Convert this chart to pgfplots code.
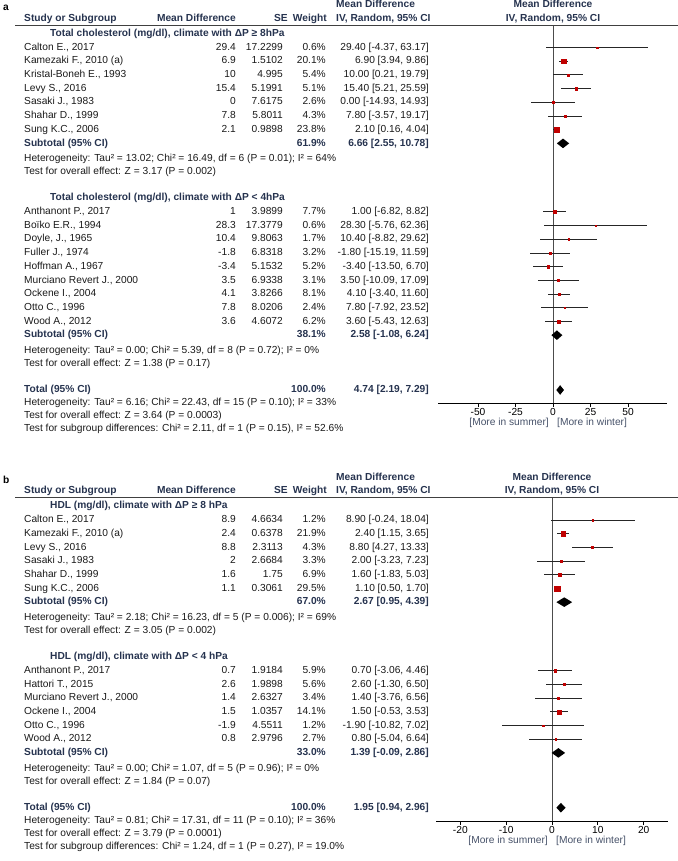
\documentclass[border=0pt]{standalone}
\usepackage{fontspec}
\setmainfont{Liberation Sans}
\usepackage{pgfplots}
\usepackage{pgfplotstable}
\pgfplotsset{compat=1.18}

\definecolor{hdr}{HTML}{26334F}
\definecolor{sqred}{HTML}{C00000}
\definecolor{txt}{HTML}{1A1A1A}
\newcommand\f{\fontsize{10.2bp}{12bp}\selectfont}
\newcommand\fb{\fontsize{10.2bp}{12bp}\selectfont\bfseries}

% study rows: row, mean difference, 95% CI, weight (%)
\pgfplotstableread{
row md   lo     hi    w
0   29.4 -4.37  63.17 0.6
1   6.9  3.94   9.86  20.1
2   10   0.21   19.79 5.4
3   15.4 5.21   25.59 5.1
4   0    -14.93 14.93 2.6
5   7.8  -3.57  19.17 4.3
6   2.1  0.16   4.04  23.8
12  1    -6.82  8.82  7.7
13  28.3 -5.76  62.36 0.6
14  10.4 -8.82  29.62 1.7
15  -1.8 -15.19 11.59 3.2
16  -3.4 -13.50 6.70  5.2
17  3.5  -10.09 17.09 3.1
18  4.1  -3.40  11.60 8.1
19  7.8  -7.92  23.52 2.4
20  3.6  -5.43  12.63 6.2
}\tchol
\pgfplotstableread{
row md   lo     hi    w
0   8.9  -0.24  18.04 1.2
1   2.4  1.15   3.65  21.9
2   8.8  4.27   13.33 4.3
3   2    -3.23  7.23  3.3
4   1.6  -1.83  5.03  6.9
5   1.1  0.50   1.70  29.5
11  0.7  -3.06  4.46  5.9
12  2.6  -1.30  6.50  5.6
13  1.4  -3.76  6.56  3.4
14  1.5  -0.53  3.53  14.1
15  -1.9 -10.82 7.02  1.2
16  0.8  -5.04  6.64  2.7
}\hdl

% derived columns: plot y, CI arms, square size
\newcommand\prep[1]{%
  \pgfplotstablecreatecol[expr={-\thisrow{row}}]{y}#1%
  \pgfplotstablecreatecol[expr={\thisrow{hi}-\thisrow{md}}]{ep}#1%
  \pgfplotstablecreatecol[expr={\thisrow{md}-\thisrow{lo}}]{em}#1%
  \pgfplotstablecreatecol[expr={max(0.75,0.5*sqrt(\thisrow{w}))}]{ms}#1}
\prep\tchol
\prep\hdl

\pgfplotsset{
  forest/.style={
    scale only axis, clip=false,
    axis x line*=bottom, hide y axis,
    x axis line style={-, black, line width=0.9bp},
    tick align=outside, major tick length=4bp,
    xtick style={black, line width=0.8bp},
    xticklabel style={font=\f, text=black, inner sep=1.5bp},
    /pgf/number format/assume math mode=true,
  },
  cilines/.style={only marks, mark=*, mark size=0.01pt,
    mark options={draw=none, fill=none}, forget plot,
    error bars/.cd, x dir=both, x explicit, error mark=none,
    error bar style={line width=0.85bp, black!85}},
  squares/.style={scatter, only marks, mark=square*,
    point meta=explicit, point meta min=0, point meta max=10,
    scatter/use mapped color={draw=sqred, fill=sqred, line width=0.2bp},
    scatter/@pre marker code/.append style={/tikz/mark size=\pgfplotspointmetatransformed/100}},
  pooled/.style={fill=black, draw=none, mark=none},
}

\newcommand\srow[6]{%
  \node[anchor=mid west] at (24,#1) {#2};
  \node[anchor=mid east] at (236,#1) {#3};
  \node[anchor=mid east] at (283,#1) {#4};
  \node[anchor=mid east] at (326,#1) {#5\%};
  \node[anchor=mid east] at (429,#1) {#6};}
\newcommand\subrow[4]{%
  \node[anchor=mid west,font=\fb,text=hdr] at (24,#1) {#2};
  \node[anchor=mid east,font=\fb,text=hdr] at (326,#1) {#3};
  \node[anchor=mid east,font=\fb,text=hdr] at (429,#1) {#4};}
\newcommand\note[2]{\node[anchor=mid west] at (24,#1) {#2};}
\newcommand\heads[2]{%
  \node[anchor=mid west,font=\fb,text=black] at (3,-2.88) {#1};
  \node[anchor=mid west,font=\fb,text=hdr] at (24,-2.1) {Study or Subgroup};
  \node[anchor=mid east,font=\fb,text=hdr] at (236,-2.1) {Mean Difference};
  \node[anchor=mid east,font=\fb,text=hdr] at (288,-2.1) {SE};
  \node[anchor=mid east,font=\fb,text=hdr] at (327,-2.1) {Weight};
  \node[anchor=mid west,font=\fb,text=hdr] at (336,-3.1) {Mean Difference};
  \node[anchor=mid west,font=\fb,text=hdr] at (336,-2.1) {IV, Random, 95\% CI};
  \node[anchor=mid,font=\fb,text=hdr] at (#2,-3.1) {Mean Difference};
  \node[anchor=mid,font=\fb,text=hdr] at (#2,-2.1) {IV, Random, 95\% CI};
  \draw[line width=1.2bp, black!75] (15,-1.62) -- (678,-1.62);}

\begin{document}
\begin{tikzpicture}
\path[use as bounding box] (0,0) rectangle (678bp,-861bp);

% ---------------- panel a ----------------
\begin{axis}[forest,
  at={(438bp,-25bp)}, anchor=north west,
  width=229bp, height=378bp,
  xmin=-76.7, xmax=76, ymin=-25.95, ymax=1.64,
  xtick={-50,-25,0,25,50}]
\draw[black!70, line width=0.9bp] (axis cs:0,1.64) -- (axis cs:0,-25.95);
\addplot[cilines] table[x=md, y=y, x error plus=ep, x error minus=em] {\tchol};
\addplot[squares] table[x=md, y=y, meta=ms] {\tchol};
\addplot[pooled] coordinates {(2.55,-7) (6.66,-6.65) (10.78,-7) (6.66,-7.35)};
\addplot[pooled] coordinates {(-1.08,-21) (2.58,-20.65) (6.24,-21) (2.58,-21.35)};
\addplot[pooled] coordinates {(2.19,-25) (4.74,-24.65) (7.29,-25) (4.74,-25.35)};
\node[anchor=mid east, font=\f, text=hdr!85, inner sep=0pt]
  at ([xshift=-4bp, yshift=-20bp]axis cs:0,-25.95) {[More in summer]};
\node[anchor=mid west, font=\f, text=hdr!85, inner sep=0pt]
  at ([xshift=4bp, yshift=-20bp]axis cs:0,-25.95) {[More in winter]};
\end{axis}

\begin{scope}[shift={(0,-47.5bp)}, x=1bp, y=-13.7bp,
  every node/.style={inner sep=0pt, font=\f, text=txt}]
\heads{a}{553}
\node[anchor=mid west,font=\fb,text=hdr] at (50,-1) {Total cholesterol (mg/dl), climate with ΔP ≥ 8hPa};
\srow{0}{Calton E., 2017}{29.4}{17.2299}{0.6}{29.40 [-4.37, 63.17]}
\srow{1}{Kamezaki F., 2010 (a)}{6.9}{1.5102}{20.1}{6.90 [3.94, 9.86]}
\srow{2}{Kristal-Boneh E., 1993}{10}{4.995}{5.4}{10.00 [0.21, 19.79]}
\srow{3}{Levy S., 2016}{15.4}{5.1991}{5.1}{15.40 [5.21, 25.59]}
\srow{4}{Sasaki J., 1983}{0}{7.6175}{2.6}{0.00 [-14.93, 14.93]}
\srow{5}{Shahar D., 1999}{7.8}{5.8011}{4.3}{7.80 [-3.57, 19.17]}
\srow{6}{Sung K.C., 2006}{2.1}{0.9898}{23.8}{2.10 [0.16, 4.04]}
\subrow{7}{Subtotal (95\% CI)}{61.9\%}{6.66 [2.55, 10.78]}
\note{8.15}{Heterogeneity: Tau² = 13.02; Chi² = 16.49, df = 6 (P = 0.01); I² = 64\%}
\note{9.1}{Test for overall effect: Z = 3.17 (P = 0.002)}
\node[anchor=mid west,font=\fb,text=hdr] at (50,11) {Total cholesterol (mg/dl), climate with ΔP < 4hPa};
\srow{12}{Anthanont P., 2017}{1}{3.9899}{7.7}{1.00 [-6.82, 8.82]}
\srow{13}{Boïko E.R., 1994}{28.3}{17.3779}{0.6}{28.30 [-5.76, 62.36]}
\srow{14}{Doyle, J., 1965}{10.4}{9.8063}{1.7}{10.40 [-8.82, 29.62]}
\srow{15}{Fuller J., 1974}{-1.8}{6.8318}{3.2}{-1.80 [-15.19, 11.59]}
\srow{16}{Hoffman A., 1967}{-3.4}{5.1532}{5.2}{-3.40 [-13.50, 6.70]}
\srow{17}{Murciano Revert J., 2000}{3.5}{6.9338}{3.1}{3.50 [-10.09, 17.09]}
\srow{18}{Ockene I., 2004}{4.1}{3.8266}{8.1}{4.10 [-3.40, 11.60]}
\srow{19}{Otto C., 1996}{7.8}{8.0206}{2.4}{7.80 [-7.92, 23.52]}
\srow{20}{Wood A., 2012}{3.6}{4.6072}{6.2}{3.60 [-5.43, 12.63]}
\subrow{21}{Subtotal (95\% CI)}{38.1\%}{2.58 [-1.08, 6.24]}
\note{22.15}{Heterogeneity: Tau² = 0.00; Chi² = 5.39, df = 8 (P = 0.72); I² = 0\%}
\note{23.1}{Test for overall effect: Z = 1.38 (P = 0.17)}
\subrow{25}{Total (95\% CI)}{100.0\%}{4.74 [2.19, 7.29]}
\note{25.95}{Heterogeneity: Tau² = 6.16; Chi² = 22.43, df = 15 (P = 0.10); I² = 33\%}
\note{26.9}{Test for overall effect: Z = 3.64 (P = 0.0003)}
\note{27.85}{Test for subgroup differences: Chi² = 2.11, df = 1 (P = 0.15), I² = 52.6\%}
\end{scope}

% ---------------- panel b ----------------
\begin{axis}[forest,
  at={(436bp,-498bp)}, anchor=north west,
  width=232bp, height=323bp,
  xmin=-25.3, xmax=25.3, ymin=-21.97, ymax=1.6,
  xtick={-20,-10,0,10,20}]
\draw[black!70, line width=0.9bp] (axis cs:0,1.6) -- (axis cs:0,-21.97);
\addplot[cilines] table[x=md, y=y, x error plus=ep, x error minus=em] {\hdl};
\addplot[squares] table[x=md, y=y, meta=ms] {\hdl};
\addplot[pooled] coordinates {(0.95,-6) (2.67,-5.65) (4.39,-6) (2.67,-6.35)};
\addplot[pooled] coordinates {(-0.09,-17) (1.39,-16.65) (2.86,-17) (1.39,-17.35)};
\addplot[pooled] coordinates {(0.94,-21) (1.95,-20.65) (2.96,-21) (1.95,-21.35)};
\node[anchor=mid east, font=\f, text=hdr!85, inner sep=0pt]
  at ([xshift=-4bp, yshift=-20bp]axis cs:0,-21.97) {[More in summer]};
\node[anchor=mid west, font=\f, text=hdr!85, inner sep=0pt]
  at ([xshift=4bp, yshift=-20bp]axis cs:0,-21.97) {[More in winter]};
\end{axis}

\begin{scope}[shift={(0,-520bp)}, x=1bp, y=-13.7bp,
  every node/.style={inner sep=0pt, font=\f, text=txt}]
\heads{b}{552}
\node[anchor=mid west,font=\fb,text=hdr] at (50,-1) {HDL (mg/dl), climate with ΔP ≥ 8 hPa};
\srow{0}{Calton E., 2017}{8.9}{4.6634}{1.2}{8.90 [-0.24, 18.04]}
\srow{1}{Kamezaki F., 2010 (a)}{2.4}{0.6378}{21.9}{2.40 [1.15, 3.65]}
\srow{2}{Levy S., 2016}{8.8}{2.3113}{4.3}{8.80 [4.27, 13.33]}
\srow{3}{Sasaki J., 1983}{2}{2.6684}{3.3}{2.00 [-3.23, 7.23]}
\srow{4}{Shahar D., 1999}{1.6}{1.75}{6.9}{1.60 [-1.83, 5.03]}
\srow{5}{Sung K.C., 2006}{1.1}{0.3061}{29.5}{1.10 [0.50, 1.70]}
\subrow{6}{Subtotal (95\% CI)}{67.0\%}{2.67 [0.95, 4.39]}
\note{7.15}{Heterogeneity: Tau² = 2.18; Chi² = 16.23, df = 5 (P = 0.006); I² = 69\%}
\note{8.1}{Test for overall effect: Z = 3.05 (P = 0.002)}
\node[anchor=mid west,font=\fb,text=hdr] at (50,10) {HDL (mg/dl), climate with ΔP < 4 hPa};
\srow{11}{Anthanont P., 2017}{0.7}{1.9184}{5.9}{0.70 [-3.06, 4.46]}
\srow{12}{Hattori T., 2015}{2.6}{1.9898}{5.6}{2.60 [-1.30, 6.50]}
\srow{13}{Murciano Revert J., 2000}{1.4}{2.6327}{3.4}{1.40 [-3.76, 6.56]}
\srow{14}{Ockene I., 2004}{1.5}{1.0357}{14.1}{1.50 [-0.53, 3.53]}
\srow{15}{Otto C., 1996}{-1.9}{4.5511}{1.2}{-1.90 [-10.82, 7.02]}
\srow{16}{Wood A., 2012}{0.8}{2.9796}{2.7}{0.80 [-5.04, 6.64]}
\subrow{17}{Subtotal (95\% CI)}{33.0\%}{1.39 [-0.09, 2.86]}
\note{18.15}{Heterogeneity: Tau² = 0.00; Chi² = 1.07, df = 5 (P = 0.96); I² = 0\%}
\note{19.1}{Test for overall effect: Z = 1.84 (P = 0.07)}
\subrow{21}{Total (95\% CI)}{100.0\%}{1.95 [0.94, 2.96]}
\note{21.95}{Heterogeneity: Tau² = 0.81; Chi² = 17.31, df = 11 (P = 0.10); I² = 36\%}
\note{22.9}{Test for overall effect: Z = 3.79 (P = 0.0001)}
\note{23.85}{Test for subgroup differences: Chi² = 1.24, df = 1 (P = 0.27), I² = 19.0\%}
\end{scope}
\end{tikzpicture}
\end{document}
